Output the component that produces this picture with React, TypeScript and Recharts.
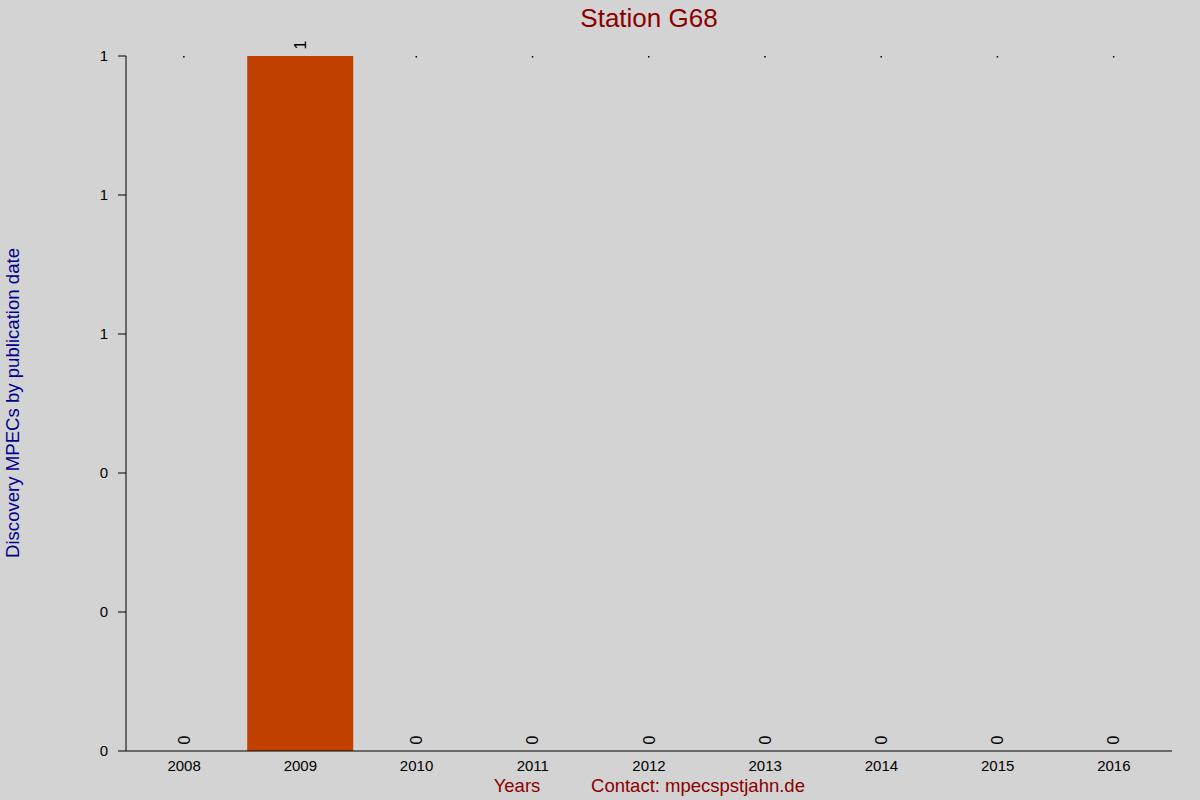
import React from 'react';
import { ComposedChart, Bar, Line, XAxis, YAxis } from 'recharts';

const years = ['2008', '2009', '2010', '2011', '2012', '2013', '2014', '2015', '2016'];
const counts = [0, 1, 0, 0, 0, 0, 0, 0, 0];
const yTicks = [0, 0.2, 0.4, 0.6, 0.8, 1];

const data = years.map((y, i) => ({ year: y, value: counts[i] }));

const FONT = '"Liberation Sans", Arial, sans-serif';

const ValueDot = (props: any) => {
  const { cx, cy, value, index } = props;
  if (cx == null || cy == null) return <g key={index} />;
  const v = Array.isArray(value) ? value[1] : value;
  if (v === 0) {
    const ty = cy - 11;
    return (
      <g key={index}>
        <rect x={cx - 1} y={56} width={1.5} height={1.5} fill="#000" />
        <text
          x={cx}
          y={ty}
          transform={`rotate(-90 ${cx} ${ty})`}
          textAnchor="middle"
          dominantBaseline="central"
          fontSize={16}
          fontFamily={FONT}
          fill="#000"
        >
          {v}
        </text>
      </g>
    );
  }
  const ty = cy - 11;
  return (
    <text
      key={index}
      x={cx}
      y={ty}
      transform={`rotate(-90 ${cx} ${ty})`}
      textAnchor="middle"
      dominantBaseline="central"
      fontSize={16}
      fontFamily={FONT}
      fill="#000"
    >
      {v}
    </text>
  );
};

export default function App() {
  return (
    <div style={{ position: 'absolute', left: 0, top: 0, width: 1200, height: 800, background: '#d3d3d3' }}>
      <ComposedChart
        width={1200}
        height={800}
        data={data}
        margin={{ top: 56, right: 28, bottom: 19, left: 86 }}
        barCategoryGap={5}
      >
        <text x={649} y={27} textAnchor="middle" fontSize={26} fontFamily={FONT} fill="#8b0000">
          Station G68
        </text>
        <text
          x={12}
          y={403}
          transform="rotate(-90 12 403)"
          textAnchor="middle"
          dominantBaseline="central"
          fontSize={18.6}
          fontFamily={FONT}
          fill="#00008b"
        >
          Discovery MPECs by publication date
        </text>
        <text x={517} y={792} textAnchor="middle" fontSize={18.5} fontFamily={FONT} fill="#8b0000">
          Years
        </text>
        <text x={698} y={792} textAnchor="middle" fontSize={18.5} fontFamily={FONT} fill="#8b0000">
          Contact: mpecspstjahn.de
        </text>
        <XAxis
          dataKey="year"
          height={30}
          tickLine={false}
          tickSize={0}
          tickMargin={9}
          axisLine={{ stroke: '#000' }}
          tick={{ fill: '#000', fontSize: 15, fontFamily: FONT }}
        />
        <YAxis
          width={40}
          domain={[0, 1]}
          ticks={yTicks}
          tickFormatter={(v: number) => String(Math.round(v))}
          tickSize={8}
          tickMargin={10}
          axisLine={{ stroke: '#000' }}
          tickLine={{ stroke: '#000' }}
          tick={{ fill: '#000', fontSize: 15, fontFamily: FONT }}
        />
        <Bar dataKey="value" fill="#c04000" isAnimationActive={false} />
        <Line
          dataKey="value"
          stroke="none"
          dot={<ValueDot />}
          activeDot={false}
          isAnimationActive={false}
        />
      </ComposedChart>
    </div>
  );
}
